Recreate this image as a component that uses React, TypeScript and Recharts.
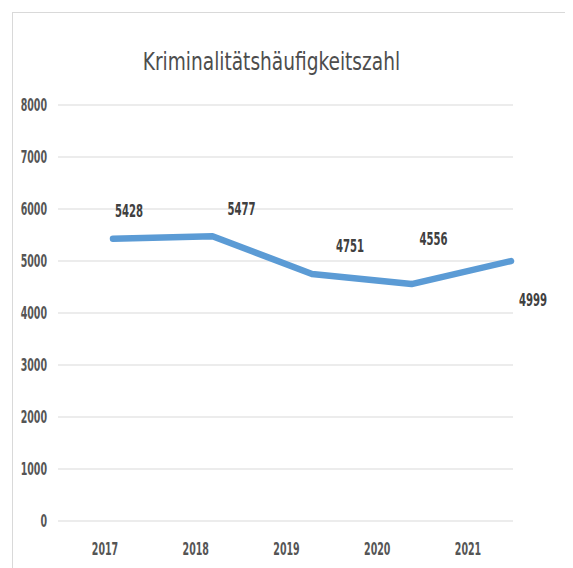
import React from 'react';
import {
  LineChart, Line, XAxis, YAxis, CartesianGrid, LabelList,
} from 'recharts';

const years = ['2017', '2018', '2019', '2020', '2021'];
const values = [5428, 5477, 4751, 4556, 4999];
const yTicks = [0, 1000, 2000, 3000, 4000, 5000, 6000, 7000, 8000];

// label nudges (dx, dy) relative to each point, as placed in the picture
const labelNudges = [[16, -28], [29, -27], [38, -28], [22, -45], [22, 39]];

const data = years.map((year, i) => ({ year, value: values[i] }));

const FONT = '"DejaVu Sans Condensed", "Open Sans", sans-serif';
const TEXT = '#555555';

const NarrowTick = (props: any) => {
  const { x, y, payload, textAnchor } = props;
  return (
    <g transform={`translate(${x},${y}) scale(0.62,1)`}>
      <text
        x={0}
        y={0}
        textAnchor={textAnchor}
        dominantBaseline="central"
        fontFamily={FONT}
        fontSize={17}
        fontWeight="bold"
        fill={TEXT}
      >
        {payload.value}
      </text>
    </g>
  );
};

const renderLabel = (props: any) => {
  const { x, y, value, index } = props;
  const [dx, dy] = labelNudges[index] || [0, -20];
  return (
    <g transform={`translate(${x + dx},${y + dy}) scale(0.66,1)`}>
      <text
        x={0}
        y={0}
        textAnchor="middle"
        dominantBaseline="central"
        fontFamily={FONT}
        fontSize={17}
        fontWeight="bold"
        fill="#404040"
      >
        {value}
      </text>
    </g>
  );
};

const App: React.FC = () => {
  return (
    <div style={{ position: 'relative', width: 565, height: 560, overflow: 'hidden', background: '#fff' }}>
      <div
        style={{
          position: 'absolute', left: 4, top: 4, width: 600, height: 600,
          borderLeft: '1px solid #d9d9d9', borderTop: '1px solid #d9d9d9',
        }}
      />
      <div
        style={{
          position: 'absolute', left: 0, top: 38, width: 527, textAlign: 'center',
          fontFamily: FONT, fontSize: 24, color: '#4d4d4d', lineHeight: '32px',
          transform: 'scaleX(0.86)', transformOrigin: '263px 0',
        }}
      >
        Kriminalitätshäufigkeitszahl
      </div>
      <div style={{ position: 'absolute', left: 0, top: 0 }}>
        <LineChart width={565} height={560} data={data} margin={{ top: 97, right: 60, bottom: 17, left: 0 }}>
          <CartesianGrid vertical={false} stroke="#d9d9d9" strokeWidth={1} />
          <XAxis xAxisId="line" dataKey="year" hide padding={{ left: 55, right: 2 }} />
          <XAxis
            xAxisId="labels"
            dataKey="year"
            axisLine={false}
            tickLine={false}
            tickMargin={22}
            height={30}
            padding={{ left: 47, right: 45 }}
            tick={<NarrowTick />}
          />
          <YAxis
            domain={[0, 8000]}
            ticks={yTicks}
            axisLine={false}
            tickLine={false}
            tickMargin={5}
            width={50}
            tick={<NarrowTick />}
          />
          <Line
            xAxisId="line"
            type="linear"
            dataKey="value"
            stroke="#5b9bd5"
            strokeWidth={6.5}
            strokeLinecap="round"
            strokeLinejoin="round"
            dot={false}
            isAnimationActive={false}
          >
            <LabelList dataKey="value" content={renderLabel} />
          </Line>
        </LineChart>
      </div>
    </div>
  );
};

export default App;
